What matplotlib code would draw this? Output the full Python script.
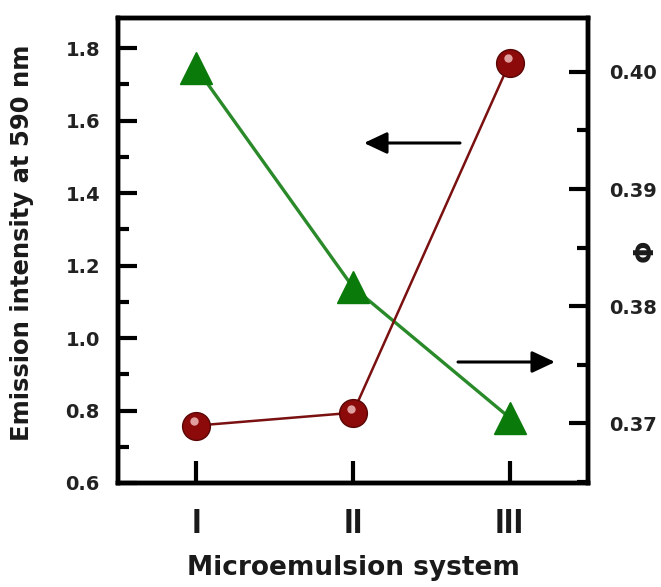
import matplotlib
matplotlib.use("Agg")
import matplotlib.pyplot as plt
from matplotlib.ticker import MultipleLocator, FormatStrFormatter
from matplotlib.transforms import offset_copy

plt.rcParams['font.family'] = ['DejaVu Sans']
plt.rcParams['font.weight'] = 'bold'

categories = ["I", "II", "III"]
emission = [1.745, 1.14, 0.78]
phi = [0.3698, 0.3709, 0.4008]

fig = plt.figure(figsize=(6.61, 5.87), dpi=100)
ax = fig.add_axes([118/661, 1-483/587, (588-118)/661, (483-18)/587])
ax2 = ax.twinx()

x = list(range(len(categories)))

ax.plot(x, emission, color='#2a8a2a', lw=2.4, zorder=2)
ax.plot(x, emission, ls='none', marker='^', ms=23, color='#0a7a0a', mec='#0a7a0a', zorder=3)

ax2.plot(x, phi, color='#7a1010', lw=1.8, zorder=2)
ax2.plot(x, phi, ls='none', marker='o', ms=20, color='#8c0a0a', mec='#5a0505', mew=1, zorder=3)
hl = offset_copy(ax2.transData, fig=fig, x=-1.5, y=3, units='points')
ax2.plot(x, phi, ls='none', marker='o', ms=6, color='#eab0b0', mec='none', alpha=0.9, transform=hl, zorder=4)

ax.set_xlim(-0.5, 2.5)
ax.set_ylim(0.6, 1.883)
ax2.set_ylim(0.3649, 0.4046)

ax.set_xticks(x)
ax.set_xticklabels(categories, fontsize=25, fontweight='bold', family='Liberation Sans', color='#1a1a1a')
ax.yaxis.set_major_locator(MultipleLocator(0.2))
ax.yaxis.set_minor_locator(MultipleLocator(0.1))
ax.yaxis.set_major_formatter(FormatStrFormatter('%.1f'))
ax2.yaxis.set_major_locator(MultipleLocator(0.01))
ax2.yaxis.set_minor_locator(MultipleLocator(0.005))
ax2.yaxis.set_major_formatter(FormatStrFormatter('%.2f'))

for a in (ax, ax2):
    for s in a.spines.values():
        s.set_linewidth(3.2)
ax.tick_params(axis='y', which='major', direction='in', length=14, width=3, labelsize=14, pad=13, labelcolor='#222222')
ax.tick_params(axis='y', which='minor', direction='in', length=8, width=3)
ax.tick_params(axis='x', which='major', direction='in', length=16, width=3, pad=17)
ax2.tick_params(axis='y', which='major', direction='in', length=14, width=3, labelsize=14, pad=15, labelcolor='#222222')
ax2.tick_params(axis='y', which='minor', direction='in', length=8, width=3)
for lab in ax.get_yticklabels() + ax2.get_yticklabels():
    lab.set_fontweight('bold')

fig.text(22/661, 1-243/587, 'Emission intensity at 590 nm', rotation=90, ha='center', va='center',
         fontsize=17.5, fontweight='bold', color='#1a1a1a')
fig.text(353/661, 1-568/587, 'Microemulsion system', ha='center', va='center',
         fontsize=19, fontweight='bold', color='#1a1a1a')
fig.text(646/661, 1-251/587, 'Φ', rotation=90, ha='center', va='center',
         fontsize=19, fontweight='bold', color='#1a1a1a')

ax.annotate('', xy=(364/661, 1-143/587), xytext=(460/661, 1-143/587), xycoords='figure fraction',
            arrowprops=dict(arrowstyle='-|>,head_length=0.7,head_width=0.33', mutation_scale=20,
                            color='black', lw=2.2, shrinkA=0, shrinkB=0))
ax.annotate('', xy=(555/661, 1-362/587), xytext=(458/661, 1-362/587), xycoords='figure fraction',
            arrowprops=dict(arrowstyle='-|>,head_length=0.7,head_width=0.33', mutation_scale=20,
                            color='black', lw=2.2, shrinkA=0, shrinkB=0))

fig.savefig('out.png', dpi=100)
